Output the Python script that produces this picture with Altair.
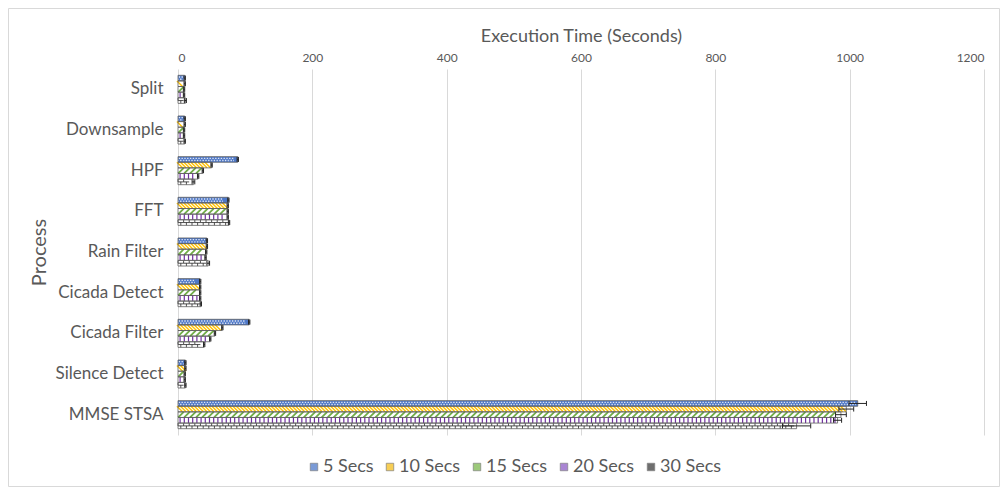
import altair as alt
import pandas as pd

processes = ["Split", "Downsample", "HPF", "FFT", "Rain Filter", "Cicada Detect",
             "Cicada Filter", "Silence Detect", "MMSE STSA"]
series_names = ["5 Secs", "10 Secs", "15 Secs", "20 Secs", "30 Secs"]

t5 = [10, 10, 89, 75, 43, 33, 106, 11, 1012]
t10 = [10, 10, 50, 74, 43, 33, 66, 11, 995]
t15 = [9, 9, 37, 74, 42, 33, 55, 10, 987]
t20 = [9, 9, 30, 74, 41, 33, 48, 10, 982]
t30 = [11, 10, 23, 76, 45, 34, 39, 11, 921]

e5 = [1, 1, 1, 1, 1, 1, 1, 1, 13]
e10 = [1, 1, 1, 1, 1, 1, 1, 1, 11]
e15 = [1, 1, 1, 1, 1, 1, 1, 1, 8]
e20 = [1, 1, 1, 1, 1, 1, 1, 1, 6]
e30 = [1.5, 1, 2, 1, 2, 1, 1, 1, 21]

x_ticks = [0, 200, 400, 600, 800, 1000, 1200]

rows = []
for s, vals, errs in zip(series_names, [t5, t10, t15, t20, t30], [e5, e10, e15, e20, e30]):
    for p, v, e in zip(processes, vals, errs):
        rows.append({"process": p, "series": s, "value": v, "lo": v - e, "hi": v + e})
df = pd.DataFrame(rows)

TXT = "#595959"
legend_colors = ["#7A9AD6", "#F7CE55", "#9CC97A", "#A985D3", "#6E6E6E"]

xscale = alt.Scale(domain=[0, 1200], nice=False, zero=True)
yscale = alt.Scale(domain=processes, paddingInner=0.31, paddingOuter=0.155)
yoff_scale = alt.Scale(domain=series_names, paddingInner=0, paddingOuter=0)

XTITLE = "Execution Time (Seconds)"


def X(field):
    return alt.X(field, type="quantitative", scale=xscale, stack=None, title=XTITLE,
                 axis=alt.Axis(orient="top", values=x_ticks, format="d", grid=True, domain=False,
                               ticks=False, labelFontSize=12, labelColor=TXT, labelPadding=5,
                               titleFontSize=18, titleFontWeight="normal", titleColor=TXT,
                               titlePadding=6, gridColor="#D9D9D9", gridWidth=1))


Y = alt.Y("process:N", scale=yscale, sort=processes, title="Process",
          axis=alt.Axis(domain=False, ticks=False, labelFontSize=17, labelColor=TXT,
                        labelPadding=15, titleFontSize=20, titleFontWeight="normal",
                        titleColor=TXT, titlePadding=6))
YO = alt.YOffset("series:N", scale=yoff_scale, sort=series_names)

base = alt.Chart(df)

bars_blue = base.transform_filter(alt.datum.series == "5 Secs").mark_bar(fill="#4E78C8").encode(
    x=X("value"), y=Y, yOffset=YO
)
bars_white = base.transform_filter(alt.datum.series != "5 Secs").mark_bar(fill="#FFFFFF").encode(
    x=X("value"), y=Y, yOffset=YO
)


def texture(name, step, shape, size, color, sw, filled=False, opacity=1.0):
    half = step / 2.0
    return base.transform_filter(alt.datum.series == name).transform_calculate(
        s=f"sequence({half}, datum.value - {half} + 0.01, {step})"
    ).transform_flatten(["s"]).mark_point(
        shape=shape, size=size, filled=filled, color=color, strokeWidth=sw, opacity=opacity
    ).encode(x=X("s"), y=Y, yOffset=YO)


dots_path = ("M-0.75,-0.65h0.5v0.5h-0.5z M0.25,-0.65h0.5v0.5h-0.5z "
             "M-0.25,0.15h0.5v0.5h-0.5z M0.75,0.15h0.25v0.5h-0.25z M-1,0.15h0.25v0.5h-0.25z")
tex5 = texture("5 Secs", 8.34, dots_path, 31, "#FFFFFF", 0, filled=True, opacity=0.8)
tex10 = texture("10 Secs", 5.2, "M-1,-1L1,1", 31, "#FFC000", 1.4)
tex15 = texture("15 Secs", 8.9, "M-1,1L1,-1", 31, "#70AD47", 1.8)
tex20 = texture("20 Secs", 6.25, "M0,-1L0,1", 31, "#7030A0", 1.2)
tex30 = texture("30 Secs", 8.34, "M-1,0L1,0M-1,-1L-1,0M0,0L0,1", 31, "#262626", 0.8)

outline = base.mark_bar(fill="#FFFFFF", fillOpacity=0, stroke="#5F5F5F", strokeWidth=0.8).encode(
    x=X("value"), y=Y, yOffset=YO
)

err_rule = base.mark_rule(color="#262626", strokeWidth=1).encode(
    x=X("lo"), x2="hi", y=Y, yOffset=YO
)
cap_lo = base.mark_point(shape="M0,-1L0,1", size=25, filled=False, color="#262626",
                         strokeWidth=1, opacity=1).encode(x=X("lo"), y=Y, yOffset=YO)
cap_hi = base.mark_point(shape="M0,-1L0,1", size=25, filled=False, color="#262626",
                         strokeWidth=1, opacity=1).encode(x=X("hi"), y=Y, yOffset=YO)

legend_layer = base.mark_square(opacity=0).encode(
    x=X("value"), y=Y, yOffset=YO,
    color=alt.Color("series:N", sort=series_names,
                    scale=alt.Scale(domain=series_names, range=legend_colors),
                    legend=alt.Legend(orient="none", legendX=127, legendY=389, direction="horizontal",
                                      title=None, symbolType="square", symbolSize=56,
                                      symbolOpacity=1, symbolStrokeColor="#7F7F7F",
                                      symbolStrokeWidth=0.7, labelFontSize=18, labelColor=TXT,
                                      labelOffset=0, columnPadding=7)),
)

border = alt.Chart(pd.DataFrame({"a": [0]})).mark_rect(
    fill="#FFFFFF", fillOpacity=0, stroke="#D9D9D9", strokeWidth=1
).encode(x=alt.value(-169.5), x2=alt.value(821.5), y=alt.value(-60.5), y2=alt.value(417.5))

chart = alt.layer(
    bars_blue, bars_white, tex5, tex10, tex15, tex20, tex30, outline, err_rule, cap_lo, cap_hi,
    legend_layer, border
).resolve_scale(x="shared", y="shared").properties(
    width=806, height=366,
    autosize=alt.AutoSizeParams(type="none"),
    padding={"left": 170, "top": 61, "right": 16, "bottom": 55},
).configure(font="Lato", background="#FFFFFF").configure_view(stroke=None)

chart.save("out.html", embed_options={"renderer": "svg", "actions": False})
